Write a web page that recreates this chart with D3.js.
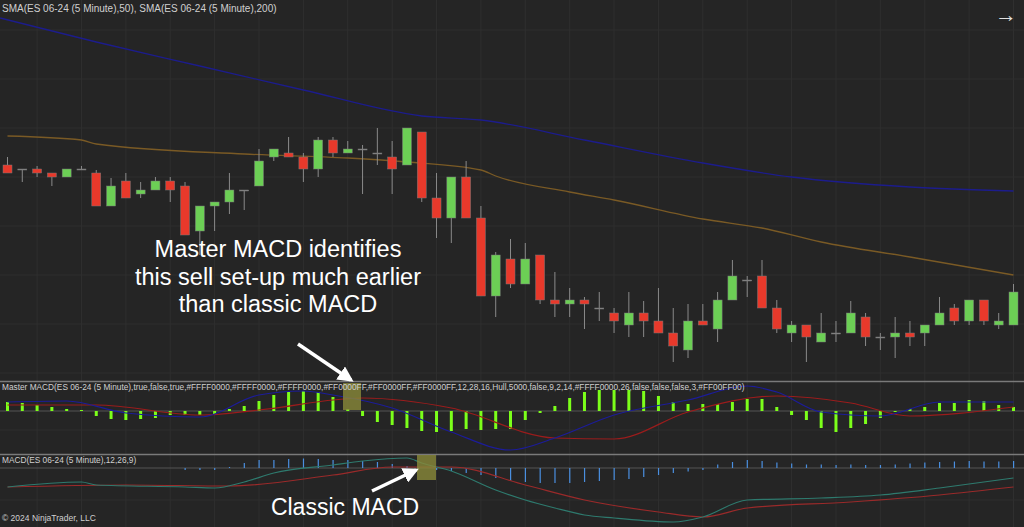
<!DOCTYPE html>
<html lang="en">
<head>
<meta charset="UTF-8">
<title>Master MACD vs MACD</title>
<script src="https://d3js.org/d3.v7.min.js"></script>
<style>
  body { margin: 0; background: #252525; }
  text { font-family: "Liberation Sans", Arial, sans-serif; }
</style>
</head>
<body>
<div id="main"></div>
<script>
// candles: open, high, low, close (chart points)
var opens  = [235,231,231,227,223,231,227,194,219,206,210,219,214,169,194,198,210,214,243,247,243,231,260,247,251,247,243,235,268,202,182,223,182,104,141,116,145,100,96,100,92,87,75,87,79,67,50,79,71,100,120,124,92,67,75,58,67,67,83,63,63,67,67,75,92,79,100,75,75];
var highs  = [243,231,234,227,231,234,230,222,227,218,223,223,218,194,198,227,210,251,251,263,247,263,263,259,255,272,259,272,268,227,223,239,194,148,161,157,145,128,112,103,108,92,108,99,112,92,96,96,108,140,124,140,100,79,75,87,79,99,87,67,83,79,75,103,96,100,100,87,116];
var lows   = [227,218,223,214,223,231,194,194,202,202,210,198,165,145,169,186,190,214,239,243,218,223,243,247,206,235,206,235,198,162,157,182,104,83,112,116,96,83,83,71,79,67,63,63,67,38,42,75,58,100,103,92,67,58,38,58,58,67,54,50,42,54,54,75,75,75,75,71,75];
var closes = [227,231,227,223,231,231,194,214,202,210,219,210,165,194,198,210,210,239,251,243,231,260,247,251,251,247,231,272,202,182,223,182,104,145,116,141,100,96,100,96,92,79,87,79,67,54,79,75,100,124,120,92,71,75,63,67,67,87,63,63,67,63,75,87,79,100,79,79,108];

var sma50  = [[0,264],[5,260],[6,256],[16,246],[23,242],[27,238],[32,230],[33,224],[38,208],[41,200],[47,181],[51,172],[55,158],[61,143],[68,125]];
var sma200 = [[-0.5,382],[6,358],[13,334],[20,310],[28,284],[32,280],[39,260],[47,237],[53,223],[61,213],[68,209]];

// master MACD
var masterHist = [9,8,6,4,2,1,-5,-8,-9,-8,-7,-4,-4,-4,-3,2,5,10,16,19,20,19,14,2,-5,-11,-14,-17,-20,-21,-20,-18,-19,-18,-18,-9,-2,5,13,19,21,21,21,20,15,9,7,7,7,9,12,12,4,-4,-9,-17,-21,-17,-13,-7,-1,2,4,8,8,11,10,6,4];
var masterFast = [[0,9],[4,10],[8,-2],[13,-6],[17,16],[20,20],[22,16],[26,3],[30,-21],[34,-39],[37,-27],[41,-4],[46,11],[50,25],[52,19],[55,-1],[59,-5],[63,9],[68,9]];
var masterSlow = [[0,6],[6,6],[13,-4],[17,1],[24,13],[30,3],[37,-27],[41,-28],[46,-1],[52,15],[57,8],[61,-5],[68,4]];

// classic MACD
var macdHist = [0,0,0,0,0,0,0,0,0,0,0,0,-2,-2,-2,1,5,8,8,9,9.5,9,8,8,7,6,4,2,0,-2,-3,-5,-7,-10,-13,-14,-15,-15,-15,-14,-13,-12,-11,-9,-7,-5,-3.5,-2,3.5,6,8,7,5.5,4.5,3.5,3.5,3,3.5,3,3,3.5,4.5,5.5,6,6.5,7,6.5,6.5,7];
var macdLine = [[0,-19],[5,-14],[6,-17],[12,-19],[14,-20],[16,-14],[18,-5],[22,3],[24,7],[27,10],[28,5],[30,-3],[33,-22],[35,-32],[37,-40],[39,-47],[41,-50],[45,-54],[47,-49],[50,-32],[55,-30],[59,-27],[63,-20],[68,-10]];
var macdSignal = [[0,-19],[8,-17],[15,-18],[22,-7],[26,1],[30,1],[35,-17],[39,-32],[44,-44],[47,-49],[50,-40],[57,-34],[63,-27],[68,-19]];

var W = 1024, H = 527;
var svg = d3.select("#main").append("svg").attr("width", W).attr("height", H);
svg.append("rect").attr("width", W).attr("height", H).attr("fill", "#252525");

var x = d3.scaleLinear().domain([0, 68]).range([7.5, 1013.5]);
var yP = d3.scaleLinear().domain([0, 400]).range([400, 0]);
var yM = d3.scaleLinear().domain([-71, 29]).range([482, 382]);
var yC = d3.scaleLinear().domain([-59, 13]).range([527, 455]);

// grid
var grid = svg.append("g").attr("stroke", "#2f2f2f").attr("stroke-width", 1);
d3.range(2, 69, 3).forEach(function(i){
  grid.append("line").attr("x1", x(i)).attr("x2", x(i)).attr("y1", 0).attr("y2", H);
});
[30,79,128,177,226,275,324,373,430,500].forEach(function(y){
  grid.append("line").attr("x1", 0).attr("x2", W).attr("y1", y).attr("y2", y);
});

// separators
[381, 454].forEach(function(y){
  svg.append("line").attr("x1", 0).attr("x2", W).attr("y1", y + 0.5).attr("y2", y + 0.5)
    .attr("stroke", "#7a7a7a").attr("stroke-width", 1.5);
});

var line = d3.line().x(function(d){ return x(d[0]); }).curve(d3.curveMonotoneX);

// SMAs
svg.append("path").datum(sma200).attr("fill", "none").attr("stroke", "#1c1c8c").attr("stroke-width", 1.3)
  .attr("d", line.y(function(d){ return yP(d[1]); }));
svg.append("path").datum(sma50).attr("fill", "none").attr("stroke", "#7a5a25").attr("stroke-width", 1.3)
  .attr("d", line.y(function(d){ return yP(d[1]); }));

// candles
var idx = d3.range(opens.length);
var cg = svg.append("g");
cg.selectAll(".wick").data(idx).enter().append("line")
  .attr("x1", function(i){ return x(i); }).attr("x2", function(i){ return x(i); })
  .attr("y1", function(i){ return yP(highs[i]); }).attr("y2", function(i){ return yP(lows[i]); })
  .attr("stroke", "#8a8a8a").attr("stroke-width", 1);
cg.selectAll(".body").data(idx).enter().append("rect")
  .attr("x", function(i){ return x(i) - 4.5; }).attr("width", 9)
  .attr("y", function(i){ return yP(Math.max(opens[i], closes[i])); })
  .attr("height", function(i){ return Math.max(1, Math.abs(yP(opens[i]) - yP(closes[i]))); })
  .attr("fill", function(i){ return opens[i] === closes[i] ? "#8a8a8a" : (closes[i] > opens[i] ? "#6ccf55" : "#e8392b"); })
  .attr("stroke", "#777").attr("stroke-width", 0.5);

// master MACD panel
svg.append("line").attr("x1", 0).attr("x2", W).attr("y1", yM(0)).attr("y2", yM(0)).attr("stroke", "#555");
svg.append("g").selectAll("rect").data(masterHist).enter().append("rect")
  .attr("x", function(d, i){ return x(i) - 1.5; }).attr("width", 3)
  .attr("y", function(d){ return Math.min(yM(d), yM(0)); })
  .attr("height", function(d){ return Math.abs(yM(d) - yM(0)); })
  .attr("fill", "#7cff1a");
svg.append("path").datum(masterSlow).attr("fill", "none").attr("stroke", "#9a1c1c").attr("stroke-width", 1.2)
  .attr("d", line.y(function(d){ return yM(d[1]); }));
svg.append("path").datum(masterFast).attr("fill", "none").attr("stroke", "#1c1c9a").attr("stroke-width", 1.2)
  .attr("d", line.y(function(d){ return yM(d[1]); }));

// classic MACD panel
svg.append("line").attr("x1", 0).attr("x2", W).attr("y1", yC(0)).attr("y2", yC(0)).attr("stroke", "#555");
svg.append("g").selectAll("rect").data(macdHist).enter().append("rect")
  .attr("x", function(d, i){ return x(i) - 0.5; }).attr("width", 1.2)
  .attr("y", function(d){ return Math.min(yC(d), yC(0)); })
  .attr("height", function(d){ return Math.abs(yC(d) - yC(0)); })
  .attr("fill", "#4a8fe0");
svg.append("path").datum(macdSignal).attr("fill", "none").attr("stroke", "#9a2a2a").attr("stroke-width", 1.2)
  .attr("d", line.y(function(d){ return yC(d[1]); }));
svg.append("path").datum(macdLine).attr("fill", "none").attr("stroke", "#2e7a6e").attr("stroke-width", 1.2)
  .attr("d", line.y(function(d){ return yC(d[1]); }));

// highlight boxes
svg.append("rect").attr("x", 343).attr("y", 383).attr("width", 18).attr("height", 27)
  .attr("fill", "#8a8a3a").attr("opacity", 0.8);
svg.append("rect").attr("x", 417).attr("y", 455).attr("width", 19).attr("height", 25)
  .attr("fill", "#8a8a3a").attr("opacity", 0.8);

// labels
function label(t, xx, yy, size, fill, anchor){
  svg.append("text").attr("x", xx).attr("y", yy).attr("font-size", size)
    .attr("fill", fill).attr("text-anchor", anchor || "start").text(t);
}
label("SMA(ES 06-24 (5 Minute),50), SMA(ES 06-24 (5 Minute),200)", 2, 12, 10, "#d0d0d0");
label("Master MACD(ES 06-24 (5 Minute),true,false,true,#FFFF0000,#FFFF0000,#FFFF0000,#FF0000FF,#FF0000FF,#FF0000FF,12,28,16,Hull,5000,false,9,2,14,#FFFF0000,26,false,false,false,3,#FF00FF00)", 2, 390, 8.3, "#d0d0d0");
label("MACD(ES 06-24 (5 Minute),12,26,9)", 2, 463, 8.3, "#d0d0d0");
label("\u00a9 2024 NinjaTrader, LLC", 2, 521, 8.5, "#d0d0d0");
label("\u2192", 1006, 22, 22, "#e0e0e0", "middle");

["Master MACD identifies", "this sell set-up much earlier", "than classic MACD"].forEach(function(t, i){
  label(t, 278, 257 + i * 27.5, 23.5, "#ffffff", "middle");
});
label("Classic MACD", 345, 515, 23, "#ffffff", "middle");

// arrows
var defs = svg.append("defs");
defs.append("marker").attr("id", "ah").attr("viewBox", "0 0 10 10").attr("refX", 8).attr("refY", 5)
  .attr("markerWidth", 4.5).attr("markerHeight", 4.5).attr("orient", "auto")
  .append("path").attr("d", "M0,0 L10,5 L0,10 z").attr("fill", "#fff");
svg.append("line").attr("x1", 298).attr("y1", 344).attr("x2", 351).attr("y2", 380)
  .attr("stroke", "#fff").attr("stroke-width", 3.5).attr("marker-end", "url(#ah)");
svg.append("line").attr("x1", 372).attr("y1", 491).attr("x2", 416).attr("y2", 470)
  .attr("stroke", "#fff").attr("stroke-width", 3.5).attr("marker-end", "url(#ah)");
</script>
</body>
</html>
